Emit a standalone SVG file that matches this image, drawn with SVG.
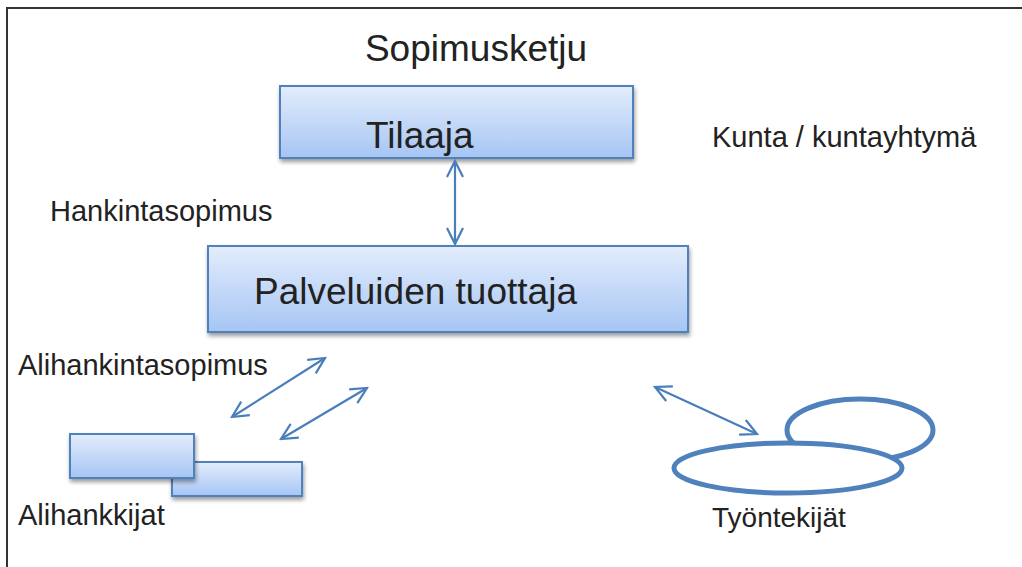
<svg xmlns="http://www.w3.org/2000/svg" width="1022" height="567" viewBox="0 0 1022 567">
<defs>
<linearGradient id="g" x1="0" y1="0" x2="0" y2="1">
<stop offset="0" stop-color="#e3edfc"/>
<stop offset="1" stop-color="#a6c5f4"/>
</linearGradient>
<filter id="sh" x="-10%" y="-20%" width="120%" height="150%">
<feGaussianBlur in="SourceAlpha" stdDeviation="2"/>
<feOffset dx="1" dy="3"/>
<feComponentTransfer><feFuncA type="linear" slope="0.4"/></feComponentTransfer>
<feMerge><feMergeNode/><feMergeNode in="SourceGraphic"/></feMerge>
</filter>
<marker id="ah" viewBox="0 0 20 20" refX="18" refY="10" markerWidth="20" markerHeight="20" markerUnits="userSpaceOnUse" orient="auto-start-reverse">
<path d="M2,2 L18,10 L2,18" fill="none" stroke="#4a7ebb" stroke-width="2.2"/>
</marker>
</defs>
<style>
.box{fill:url(#g);stroke:#4f81bd;stroke-width:2;filter:url(#sh)}
.t{font-family:"Liberation Sans",Arial,sans-serif;fill:#222}
.s{font-size:29px}
.b{font-size:37px}
.c{fill:none;stroke:#4a7ebb;stroke-width:2.2}
.e{fill:#fff;stroke:#4f81bd;stroke-width:5}
</style>
<path d="M7,567 L7,8 L1022,8" fill="none" stroke="#333" stroke-width="2"/>
<text class="t b" x="476" y="61" text-anchor="middle">Sopimusketju</text>
<g id="tilaaja">
<rect class="box" x="280" y="86" width="353" height="72"/>
<text class="t b" x="366" y="148">Tilaaja</text>
</g>
<text class="t s" x="712" y="147">Kunta / kuntayhtymä</text>
<text class="t s" x="50" y="221">Hankintasopimus</text>
<g id="tuottaja">
<rect class="box" x="208" y="246" width="480" height="86"/>
<text class="t b" x="254" y="304">Palveluiden tuottaja</text>
</g>
<text class="t s" x="18" y="375">Alihankintasopimus</text>
<g id="alihankkijat">
<rect class="box" x="172" y="462" width="130" height="34"/>
<rect class="box" x="70" y="434" width="124" height="44"/>
<text class="t s" x="18" y="525">Alihankkijat</text>
</g>
<g id="tyontekijat">
<ellipse class="e" cx="860" cy="430" rx="73" ry="31"/>
<ellipse class="e" cx="788" cy="468" rx="114" ry="25"/>
<text class="t" x="712" y="527" font-size="28">Työntekijät</text>
</g>
<g id="connectors">
<line class="c" x1="455" y1="161" x2="455" y2="244" marker-start="url(#ah)" marker-end="url(#ah)"/>
<line class="c" x1="232" y1="417" x2="325" y2="358" marker-start="url(#ah)" marker-end="url(#ah)"/>
<line class="c" x1="281" y1="439" x2="367" y2="388" marker-start="url(#ah)" marker-end="url(#ah)"/>
<line class="c" x1="655" y1="387" x2="757" y2="434" marker-start="url(#ah)" marker-end="url(#ah)"/>
</g>
</svg>
